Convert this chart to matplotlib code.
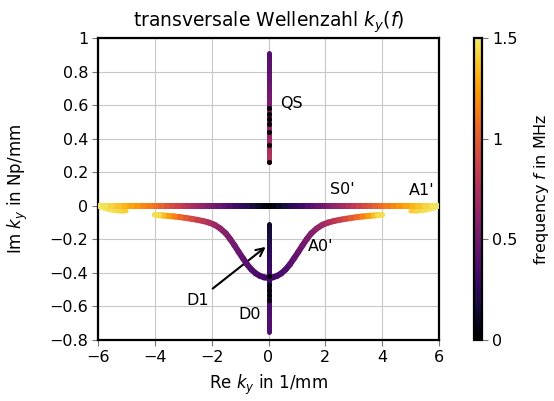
import numpy as np
import matplotlib
matplotlib.use("Agg")
import matplotlib.pyplot as plt
from matplotlib.collections import LineCollection
from matplotlib.ticker import FuncFormatter, FixedLocator
from matplotlib import cm, colors

plt.rcParams['font.family'] = ['DejaVu Sans']
plt.rcParams['mathtext.fontset'] = 'dejavusans'

# ---- data ----
# S0' branch (symmetric in Re k_y), Im = 0
s0_f  = [0.0, 0.05, 0.1, 0.15, 0.2, 0.25, 0.3, 0.35, 0.4, 0.45, 0.5, 0.55, 0.6, 0.65, 0.7, 0.75,
         0.8, 0.85, 0.9, 0.95, 1.0, 1.05, 1.1, 1.15, 1.2, 1.25, 1.3, 1.35, 1.4, 1.45, 1.5]
s0_re = [0.0, 0.18, 0.36, 0.55, 0.75, 0.95, 1.15, 1.35, 1.55, 1.75, 1.95, 2.12, 2.3, 2.47, 2.65, 2.82,
         3.0, 3.2, 3.4, 3.57, 3.75, 3.95, 4.15, 4.37, 4.6, 4.82, 5.05, 5.27, 5.5, 5.75, 6.0]
s0_im = [0.0] * len(s0_re)

# A0' branch (symmetric)
a0_f  = [0.30, 0.31, 0.33, 0.35, 0.37, 0.40, 0.43, 0.46, 0.49, 0.52, 0.56, 0.61, 0.66, 0.71,
         0.77, 0.83, 0.89, 0.96, 1.03, 1.11, 1.20, 1.31, 1.40, 1.50]
a0_re = [0.0, 0.15, 0.3, 0.45, 0.6, 0.75, 0.9, 1.05, 1.2, 1.35, 1.5, 1.7, 1.9, 2.1,
         2.3, 2.5, 2.7, 2.9, 3.1, 3.3, 3.5, 3.7, 3.85, 4.0]
a0_im = [-0.43, -0.427, -0.418, -0.403, -0.38, -0.35, -0.313, -0.275, -0.235, -0.198, -0.165,
         -0.135, -0.113, -0.1, -0.091, -0.084, -0.078, -0.073, -0.068, -0.064, -0.061, -0.058,
         -0.056, -0.054]

# A1' branch (symmetric)
a1_f  = [1.40, 1.42, 1.44, 1.46, 1.48, 1.5]
a1_re = [5.0, 5.2, 5.4, 5.6, 5.8, 6.0]
a1_im = [-0.032, -0.033, -0.030, -0.025, -0.015, -0.004]

# QS branch (Re = 0)
qs_f  = [0.38, 0.40, 0.42, 0.44, 0.46, 0.48, 0.50, 0.52, 0.55, 0.58, 0.61, 0.64, 0.67, 0.70, 0.74, 0.78]
qs_im = [0.91, 0.87, 0.83, 0.78, 0.74, 0.70, 0.66, 0.62, 0.57, 0.52, 0.48, 0.44, 0.39, 0.35, 0.30, 0.26]

# D1 branch (Re = 0)
d1_f  = [0.12, 0.14, 0.16, 0.18, 0.20, 0.22, 0.24, 0.26, 0.28, 0.30, 0.31]
d1_im = [-0.11, -0.14, -0.17, -0.20, -0.23, -0.26, -0.29, -0.33, -0.37, -0.40, -0.43]

# D0 branch (Re = 0)
d0_f  = [0.31, 0.32, 0.33, 0.34, 0.35, 0.36, 0.37, 0.38, 0.39]
d0_im = [-0.43, -0.47, -0.51, -0.55, -0.59, -0.63, -0.67, -0.71, -0.75]

# isolated dark points on the imaginary axis
dots_im = [0.58, 0.55, 0.52, 0.49, 0.44, 0.36, 0.26, -0.42, -0.47, -0.50, -0.53, -0.56]

xticks = [-6, -4, -2, 0, 2, 4, 6]
yticks = [-0.8, -0.6, -0.4, -0.2, 0, 0.2, 0.4, 0.6, 0.8, 1]
cticks = [0, 0.5, 1, 1.5]

# ---- figure ----
fig = plt.figure(figsize=(5.54, 4.01), dpi=100)
W, H = 554, 401
ax = fig.add_axes([98 / W, 1 - 340 / H, (439 - 98) / W, (340 - 38) / H])
cax = fig.add_axes([474 / W, 1 - 340 / H, 8 / W, (340 - 38) / H])

base = plt.get_cmap('inferno')
cmap = colors.ListedColormap(base(np.linspace(0.0, 0.94, 256)))
norm = colors.Normalize(0, 1.5)


def branch(re, im, f, lw=4.3, z=2):
    pts = np.column_stack([re, im])
    segs = np.stack([pts[:-1], pts[1:]], axis=1)
    fv = np.asarray(f)
    lc = LineCollection(segs, cmap=cmap, norm=norm, linewidths=lw,
                        capstyle='round', joinstyle='round', zorder=z)
    lc.set_array(0.5 * (fv[:-1] + fv[1:]))
    ax.add_collection(lc)


zeros = lambda n: [0.0] * n
neg = lambda v: [-x for x in v]

branch(a1_re, a1_im, a1_f, lw=3.2, z=2)
branch(neg(a1_re), a1_im, a1_f, lw=3.2, z=2)
branch(s0_re, s0_im, s0_f, z=3)
branch(neg(s0_re), s0_im, s0_f, z=3)
branch(a0_re, a0_im, a0_f, z=4)
branch(neg(a0_re), a0_im, a0_f, z=4)
branch(zeros(len(d1_im)), d1_im, d1_f, lw=3.6, z=5)
branch(zeros(len(d0_im)), d0_im, d0_f, lw=3.6, z=5)
branch(zeros(len(qs_im)), qs_im, qs_f, lw=3.6, z=5)
ax.scatter(zeros(len(dots_im)), dots_im, s=13, color='black', zorder=6, linewidths=0)

ax.set_xlim(-6, 6)
ax.set_ylim(-0.8, 1)
ax.xaxis.set_major_locator(FixedLocator(xticks))
ax.yaxis.set_major_locator(FixedLocator(yticks))


def fmt(v, pos=None):
    s = ('%.1f' % v).rstrip('0').rstrip('.')
    if s in ('-0', ''):
        s = '0'
    return s.replace('-', '\u2212')


ax.xaxis.set_major_formatter(FuncFormatter(fmt))
ax.yaxis.set_major_formatter(FuncFormatter(fmt))
ax.grid(True, color='#c8c8c8', linewidth=0.8, zorder=0)
ax.set_axisbelow(True)
for sp in ax.spines.values():
    sp.set_linewidth(1.6)
ax.tick_params(direction='out', length=4, width=0.8, color='#777777', labelsize=11.5, pad=3)

ax.set_title(r'transversale Wellenzahl $k_y(f)$', fontsize=13.5, pad=8)
ax.set_xlabel(r'Re $k_y$ in 1/mm', fontsize=12, labelpad=6)
ax.set_ylabel(r'Im $k_y$ in Np/mm', fontsize=12, labelpad=14)

fs = 11.5
ax.text(0.4, 0.61, 'QS', fontsize=fs, va='center', ha='left')
ax.text(2.6, 0.1, "S0'", fontsize=fs, va='center', ha='center')
ax.text(5.4, 0.09, "A1'", fontsize=fs, va='center', ha='center')
ax.text(1.85, -0.245, "A0'", fontsize=fs, va='center', ha='center')
ax.text(-0.65, -0.65, 'D0', fontsize=fs, va='center', ha='center')
ax.annotate('D1', xy=(-0.1, -0.245), xytext=(-2.5, -0.565), fontsize=fs,
            va='center', ha='center',
            arrowprops=dict(arrowstyle='->', lw=1.5, color='black',
                            shrinkA=2, shrinkB=0, mutation_scale=14))

cb = fig.colorbar(cm.ScalarMappable(norm=norm, cmap=cmap), cax=cax)
cb.set_ticks(cticks)
cb.ax.yaxis.set_major_formatter(FuncFormatter(fmt))
cb.outline.set_linewidth(1.6)
cb.ax.tick_params(labelsize=11.5, length=4, width=0.8, color='#777777')
cb.set_label(r'frequency $f$ in MHz', fontsize=11.5, labelpad=10)

fig.savefig('out.png', dpi=100)
